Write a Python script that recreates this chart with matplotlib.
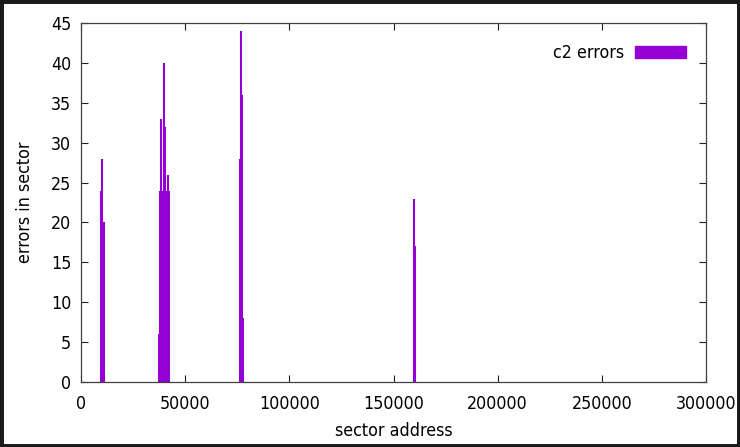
import matplotlib.pyplot as plt
from matplotlib.patches import Patch, Rectangle

# sector addresses with c2 errors
sectors = [9600, 10100, 10600, 11000,
           37400, 37900, 38400, 38900, 39400, 39800, 40300, 40800, 41300, 41800, 42200,
           76300, 76800, 77300, 77700,
           159700, 160100]
errors = [24, 28, 12, 20,
          6, 24, 33, 24, 10, 40, 32, 24, 4, 26, 24,
          28, 44, 36, 8,
          23, 17]

x_ticks = [0, 50000, 100000, 150000, 200000, 250000, 300000]
y_ticks = [0, 5, 10, 15, 20, 25, 30, 35, 40, 45]

plt.rcParams['font.family'] = ['DejaVu Sans']
plt.rcParams['font.stretch'] = 'condensed'
plt.rcParams['font.size'] = 12.8

fig = plt.figure(figsize=(7.4, 4.47), dpi=100)
ax = fig.add_axes([0.1095, 0.1454, 0.8446, 0.8031])

ax.vlines(sectors, 0, errors, color='#9400D3', lw=1.5)

ax.set_xlim(0, 300000)
ax.set_ylim(0, 45)
ax.set_xticks(x_ticks)
ax.set_yticks(y_ticks)
ax.tick_params(direction='in', top=True, right=True, length=5, width=0.8, colors='#202020', labelcolor='black')
ax.tick_params(axis='x', pad=9)
ax.tick_params(axis='y', pad=7)
for s in ax.spines.values():
    s.set_color('#404040')
    s.set_linewidth(0.9)

ax.set_xlabel('sector address', labelpad=7)
ax.set_ylabel('errors in sector', labelpad=12)

handle = Patch(facecolor='#9400D3', edgecolor='#9400D3')
ax.legend([handle], ['c2 errors'], loc='upper right', frameon=False, markerfirst=False,
          handlelength=2.9, handleheight=0.6, bbox_to_anchor=(0.994, 0.985), handletextpad=0.6)

# dark frame around the whole picture
fig.patches.append(Rectangle((0, 0), 1, 1, transform=fig.transFigure, fill=False,
                             edgecolor='#1a1a1a', lw=5))

fig.savefig('out.png', dpi=100)
